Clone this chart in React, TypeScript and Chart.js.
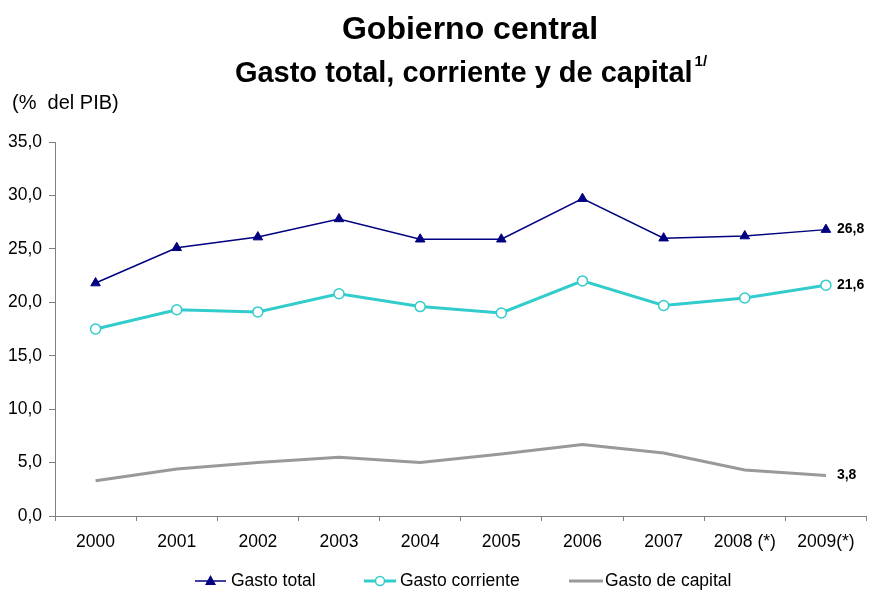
import React, { useEffect, useRef } from "react";
import { Chart, registerables } from "chart.js";

Chart.register(...registerables);

const categories = ["2000", "2001", "2002", "2003", "2004", "2005", "2006", "2007", "2008 (*)", "2009(*)"];
const gastoTotal = [21.8, 25.1, 26.1, 27.8, 25.9, 25.9, 29.7, 26.0, 26.2, 26.8];
const gastoCorriente = [17.5, 19.3, 19.1, 20.8, 19.6, 19.0, 22.0, 19.7, 20.4, 21.6];
const gastoCapital = [3.3, 4.4, 5.0, 5.5, 5.0, 5.8, 6.7, 5.9, 4.3, 3.8];
const endLabels = ["26,8", "21,6", "3,8"];
const seriesNames = ["Gasto total", "Gasto corriente", "Gasto de capital"];
const yTicks = [0, 5, 10, 15, 20, 25, 30, 35];

const FONT = "'Liberation Sans', Arial, sans-serif";
const NAVY = "#000080";
const TURQ = "#33CCCC";
const GRAY = "#999999";

const decorPlugin = {
  id: "decor",
  afterDatasetsDraw(chart: any) {
    const ctx = chart.ctx;
    ctx.save();
    ctx.font = `bold 14px ${FONT}`;
    ctx.fillStyle = "#000";
    ctx.textAlign = "left";
    ctx.textBaseline = "middle";
    chart.data.datasets.forEach((ds: any, i: number) => {
      const meta = chart.getDatasetMeta(i);
      const pt = meta.data[meta.data.length - 1];
      ctx.fillText(endLabels[i], pt.x + 11, pt.y);
    });
    ctx.restore();
  },
  afterDraw(chart: any) {
    const ctx = chart.ctx;
    ctx.save();
    ctx.fillStyle = "#000";
    ctx.textBaseline = "middle";
    // titles
    ctx.textAlign = "center";
    ctx.font = `bold 32px ${FONT}`;
    ctx.fillText("Gobierno central", 470, 30);
    ctx.font = `bold 29px ${FONT}`;
    const line2 = "Gasto total, corriente y de capital";
    const w2 = ctx.measureText(line2).width;
    ctx.font = `bold 15px ${FONT}`;
    const ws = ctx.measureText("1/").width;
    const startX = 471 - (w2 + 2 + ws) / 2;
    ctx.textAlign = "left";
    ctx.font = `bold 29px ${FONT}`;
    ctx.fillText(line2, startX, 74);
    ctx.font = `bold 15px ${FONT}`;
    ctx.fillText("1/", startX + w2 + 2, 62);
    // y axis unit label
    ctx.font = `20px ${FONT}`;
    ctx.fillText("(%  del PIB)", 12, 103);
    // legend
    const ly = 581;
    ctx.font = `17.5px ${FONT}`;
    const items = [
      { x: 195, len: 31, tx: 231, color: NAVY, lw: 1.5, marker: "tri" },
      { x: 364, len: 32, tx: 400, color: TURQ, lw: 3, marker: "circ" },
      { x: 569, len: 34, tx: 605, color: GRAY, lw: 3, marker: "none" },
    ];
    items.forEach((it, i) => {
      ctx.strokeStyle = it.color;
      ctx.lineWidth = it.lw;
      ctx.beginPath();
      ctx.moveTo(it.x, ly);
      ctx.lineTo(it.x + it.len, ly);
      ctx.stroke();
      const cx = it.x + it.len / 2;
      if (it.marker === "tri") {
        ctx.fillStyle = NAVY;
        ctx.beginPath();
        ctx.moveTo(cx, ly - 6);
        ctx.lineTo(cx + 5.5, ly + 4);
        ctx.lineTo(cx - 5.5, ly + 4);
        ctx.closePath();
        ctx.fill();
      } else if (it.marker === "circ") {
        ctx.fillStyle = "#fff";
        ctx.lineWidth = 1.5;
        ctx.beginPath();
        ctx.arc(cx, ly, 4.5, 0, Math.PI * 2);
        ctx.fill();
        ctx.stroke();
      }
      ctx.fillStyle = "#000";
      ctx.fillText(seriesNames[i], it.tx, ly);
    });
    ctx.restore();
  },
};

export default function App() {
  const ref = useRef<HTMLCanvasElement | null>(null);
  useEffect(() => {
    if (!ref.current) return;
    const chart = new Chart(ref.current, {
      type: "line",
      data: {
        labels: categories,
        datasets: [
          {
            label: seriesNames[0],
            data: gastoTotal,
            borderColor: NAVY,
            backgroundColor: NAVY,
            borderWidth: 1.5,
            pointStyle: "triangle",
            pointRadius: 5.5,
            pointBackgroundColor: NAVY,
            pointBorderColor: NAVY,
            pointBorderWidth: 1,
            tension: 0,
          },
          {
            label: seriesNames[1],
            data: gastoCorriente,
            borderColor: TURQ,
            backgroundColor: "#fff",
            borderWidth: 3,
            pointStyle: "circle",
            pointRadius: 5,
            pointBackgroundColor: "#fff",
            pointBorderColor: TURQ,
            pointBorderWidth: 1.5,
            tension: 0,
          },
          {
            label: seriesNames[2],
            data: gastoCapital,
            borderColor: GRAY,
            backgroundColor: GRAY,
            borderWidth: 3,
            pointRadius: 0,
            tension: 0,
          },
        ],
      },
      options: {
        responsive: false,
        animation: false,
        layout: { padding: { top: 142, left: 0, right: 2, bottom: 0 } },
        plugins: {
          legend: { display: false },
          title: { display: false },
          tooltip: { enabled: false },
        },
        scales: {
          x: {
            type: "category",
            offset: true,
            grid: {
              display: true,
              offset: true,
              drawOnChartArea: false,
              drawTicks: true,
              tickLength: 5,
              color: "#808080",
            },
            border: { display: true, color: "#808080", width: 1 },
            ticks: {
              color: "#000",
              font: { family: FONT, size: 17.5 },
              padding: 11,
              maxRotation: 0,
              autoSkip: false,
            },
            afterFit(scale: any) {
              scale.height = 75;
              scale.paddingRight = 0;
              scale.paddingLeft = 0;
            },
          },
          y: {
            min: 0,
            max: 35,
            afterBuildTicks(scale: any) {
              scale.ticks = yTicks.map((v) => ({ value: v }));
            },
            grid: {
              display: true,
              drawOnChartArea: false,
              drawTicks: true,
              tickLength: 6,
              color: "#808080",
            },
            border: { display: true, color: "#808080", width: 1 },
            ticks: {
              color: "#000",
              font: { family: FONT, size: 17.5 },
              padding: 7,
              callback: (v: any) => Number(v).toFixed(1).replace(".", ","),
            },
            afterFit(scale: any) {
              scale.width = 55;
              scale.paddingTop = 0;
              scale.paddingBottom = 0;
            },
          },
        },
      },
      plugins: [decorPlugin],
    } as any);
    return () => chart.destroy();
  }, []);
  return (
    <div style={{ position: "fixed", left: 0, top: 0, width: 873, height: 591, background: "#fff" }}>
      <canvas ref={ref} width={873} height={591} style={{ width: 873, height: 591 }} />
    </div>
  );
}
